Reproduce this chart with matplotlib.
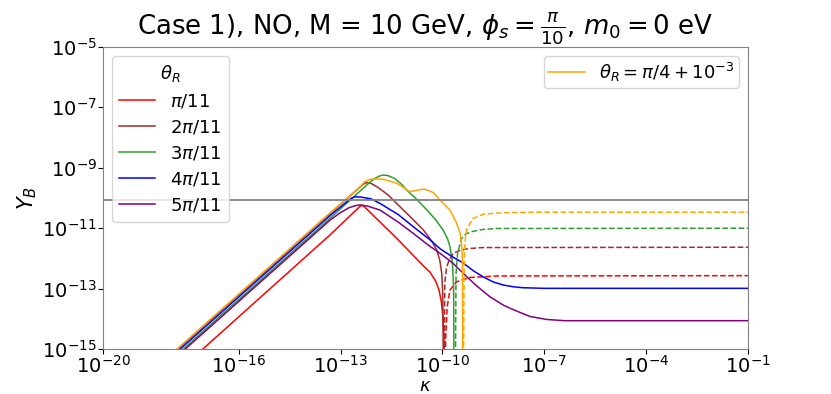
import numpy as np
import matplotlib
matplotlib.use("Agg")
import matplotlib.pyplot as plt

# ---- data (log10 kappa, log10 Y_B) ----
labels = [r"$\pi/11$", r"$2\pi/11$", r"$3\pi/11$", r"$4\pi/11$", r"$5\pi/11$"]
colors = ["red", "brown", "tab:green", "blue", "purple"]

red_pos_k = [-18.5, -13.31, -12.45, -12.38, -12.3, -11.35, -10.56, -10.37, -10.2, -10.1, -10.03, -9.98, -9.95, -9.94]
red_pos_y = [-16.45, -11.22, -10.30, -10.24, -10.29, -11.33, -12.25, -12.45, -12.75, -13.05, -13.45, -14.0, -14.8, -16.0]
red_neg_k = [-9.93, -9.90, -9.86, -9.78, -9.58, -9.19, -8.40, -1.0]
red_neg_y = [-16.0, -14.5, -13.6, -13.05, -12.77, -12.63, -12.58, -12.57]

brown_pos_k = [-18.5, -13.31, -12.43, -12.33, -12.23, -12.1, -11.9, -11.6, -11.35, -10.95, -10.56, -10.3, -10.17, -10.08, -10.02, -9.99, -9.97]
brown_pos_y = [-15.7, -10.51, -9.64, -9.54, -9.49, -9.52, -9.65, -9.9, -10.18, -10.62, -11.06, -11.45, -11.72, -12.05, -12.49, -13.2, -16.0]
brown_neg_k = [-9.95, -9.93, -9.88, -9.80, -9.68, -9.45, -9.19, -8.8, -1.0]
brown_neg_y = [-16.0, -12.8, -12.3, -12.05, -11.83, -11.72, -11.67, -11.64, -11.63]

green_pos_k = [-18.5, -13.31, -12.14, -12.0, -11.85, -11.74, -11.6, -11.4, -11.2, -11.06, -10.8, -10.47, -10.2, -9.98, -9.85, -9.78, -9.72, -9.70, -9.67, -9.66]
green_pos_y = [-15.86, -10.67, -9.48, -9.36, -9.27, -9.24, -9.26, -9.36, -9.55, -9.73, -10.0, -10.38, -10.72, -11.06, -11.35, -11.61, -12.0, -12.27, -13.0, -16.0]
green_neg_k = [-9.62, -9.60, -9.55, -9.44, -9.3, -9.09, -8.8, -8.41, -1.0]
green_neg_y = [-16.0, -12.5, -11.8, -11.35, -11.18, -11.1, -11.04, -11.01, -11.0]

blue_pos_k = [-18.5, -13.31, -12.9, -12.7, -12.58, -12.4, -12.1, -11.84, -11.3, -10.86, -10.37, -10.07, -9.70, -9.39, -9.1, -8.80, -8.5, -8.21, -7.9, -7.62, -7.0, -1.0]
blue_pos_y = [-15.77, -10.58, -10.2, -10.02, -9.96, -9.97, -10.03, -10.18, -10.55, -10.95, -11.38, -11.68, -11.95, -12.15, -12.4, -12.61, -12.78, -12.88, -12.94, -12.97, -12.99, -12.99]

purple_pos_k = [-18.5, -13.31, -13.0, -12.75, -12.55, -12.43, -12.2, -11.84, -11.3, -10.86, -10.37, -10.07, -9.7, -9.39, -9.0, -8.6, -8.2, -7.82, -7.42, -6.93, -6.4, -1.0]
purple_pos_y = [-15.92, -10.73, -10.48, -10.32, -10.25, -10.23, -10.27, -10.40, -10.8, -11.17, -11.6, -11.83, -12.15, -12.49, -12.9, -13.27, -13.55, -13.74, -13.92, -14.02, -14.06, -14.06]

orange_pos_k = [-18.5, -13.31, -12.5, -12.3, -12.14, -11.9, -11.74, -11.35, -10.96, -10.81, -10.65, -10.52, -10.27, -10.07, -9.78, -9.58, -9.48, -9.44, -9.42, -9.41, -9.40]
orange_pos_y = [-15.68, -10.49, -9.72, -9.47, -9.38, -9.37, -9.38, -9.51, -9.79, -9.76, -9.72, -9.71, -9.82, -10.07, -10.40, -10.84, -11.17, -11.5, -11.72, -12.5, -16.0]
orange_neg_k = [-9.38, -9.36, -9.33, -9.29, -9.19, -9.09, -8.80, -8.4, -8.0, -7.0, -1.0]
orange_neg_y = [-16.0, -12.0, -11.4, -11.06, -10.85, -10.67, -10.54, -10.50, -10.48, -10.47, -10.47]

Y_obs = 8.7e-11
xticks = [1e-20, 1e-16, 1e-13, 1e-10, 1e-7, 1e-4, 1e-1]
yticks = [1e-15, 1e-13, 1e-11, 1e-9, 1e-7, 1e-5]

pos_k = [red_pos_k, brown_pos_k, green_pos_k, blue_pos_k, purple_pos_k]
pos_y = [red_pos_y, brown_pos_y, green_pos_y, blue_pos_y, purple_pos_y]
neg_k = [red_neg_k, brown_neg_k, green_neg_k, None, None]
neg_y = [red_neg_y, brown_neg_y, green_neg_y, None, None]

def p(v):
    return 10.0 ** np.asarray(v)

fig = plt.figure(figsize=(8.31, 3.94), dpi=100)
ax = fig.add_axes([0.124, 0.114, 0.776, 0.767])

handles = []
for i in range(5):
    h, = ax.plot(p(pos_k[i]), p(pos_y[i]), color=colors[i], lw=1.1, label=labels[i])
    handles.append(h)
    if neg_k[i] is not None:
        ax.plot(p(neg_k[i]), p(neg_y[i]), color=colors[i], lw=1.1, ls="--")

ho, = ax.plot(p(orange_pos_k), p(orange_pos_y), color="orange", lw=1.1,
              label=r"$\theta_R = \pi/4 + 10^{-3}$")
ax.plot(p(orange_neg_k), p(orange_neg_y), color="orange", lw=1.1, ls="--")

ax.axhline(Y_obs, color="gray", lw=1.3)

ax.set_xscale("log")
ax.set_yscale("log")
ax.set_xlim(1e-20, 1e-1)
ax.set_ylim(1e-15, 1e-5)
ax.set_xticks(xticks)
ax.set_yticks(yticks)
ax.minorticks_off()
ax.tick_params(labelsize=14, pad=1)
for s in ax.spines.values():
    s.set_color("gray")

ax.set_xlabel(r"$\kappa$", fontsize=13)
ax.xaxis.set_label_coords(0.5, -0.092)
ax.set_ylabel(r"$Y_B$", fontsize=15, labelpad=2)
ax.set_title(r"Case 1), NO, M = 10 GeV, $\phi_s = \frac{\pi}{10}$, $m_0 = 0$ eV",
             fontsize=18.7, pad=7)

leg1 = ax.legend(handles=handles, title=r"$\theta_R$", loc="upper left",
                 fontsize=13, title_fontsize=13, labelspacing=0.45)
ax.add_artist(leg1)
ax.legend(handles=[ho], loc="upper right", fontsize=13, borderpad=0.25)

fig.savefig("out.png", dpi=100)
